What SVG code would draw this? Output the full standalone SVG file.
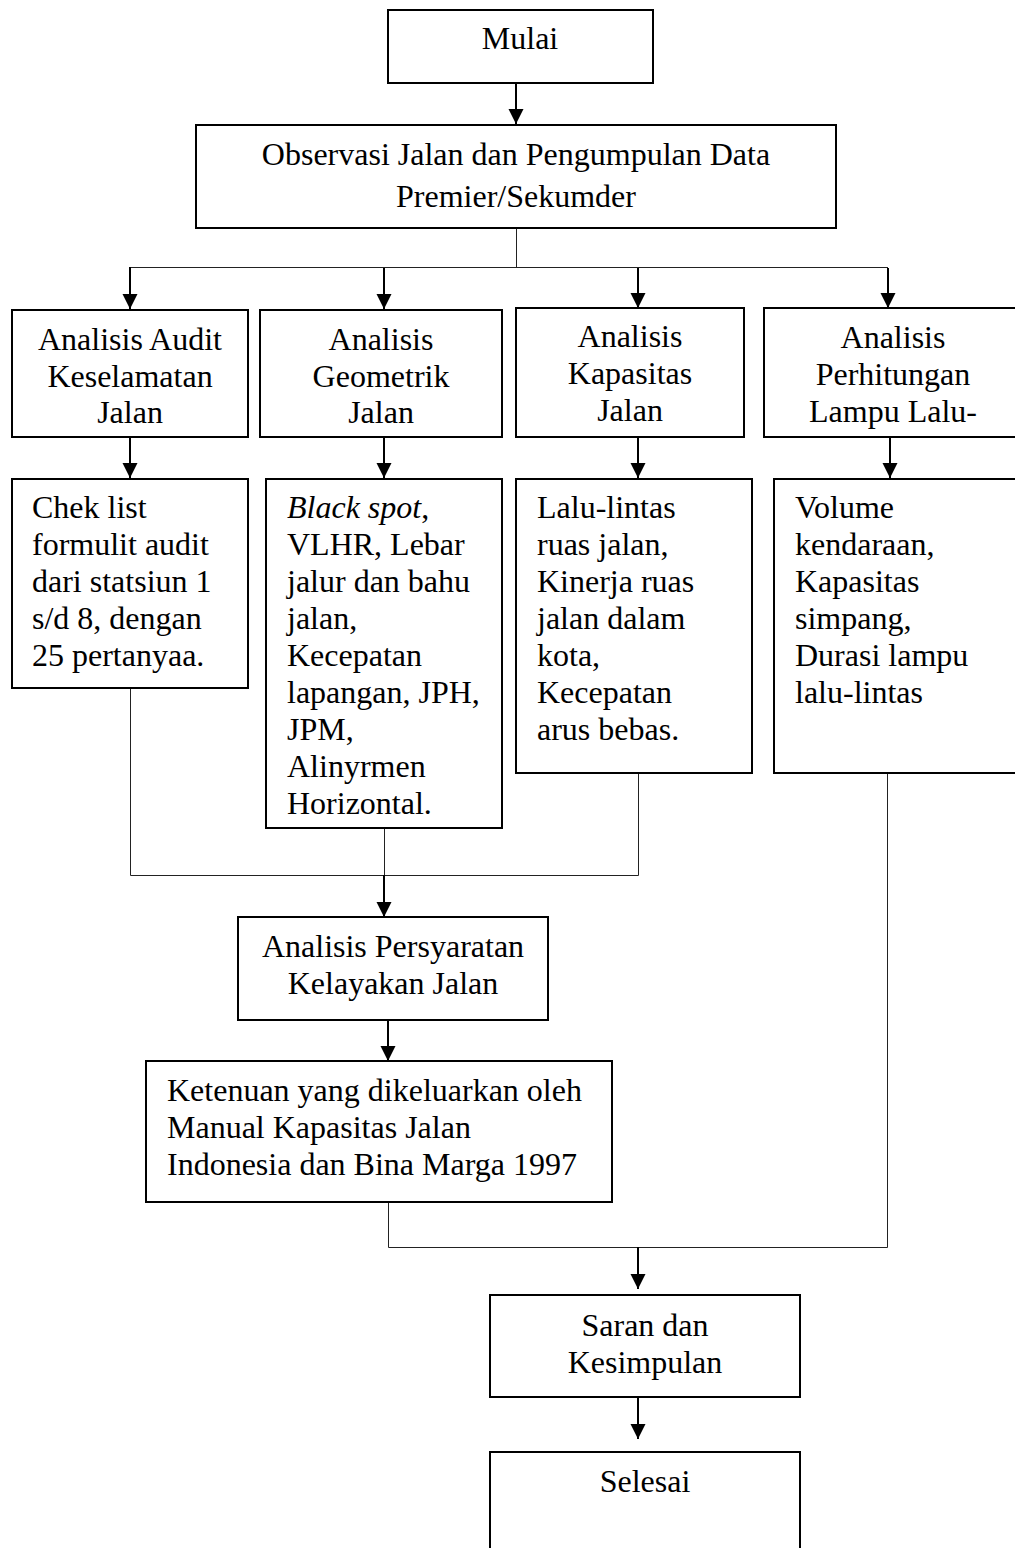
<svg xmlns="http://www.w3.org/2000/svg" width="1015" height="1548" viewBox="0 0 1015 1548">
<style>
.box{fill:#fff;stroke:#000;stroke-width:2}
.t{font-family:"Liberation Serif","Times New Roman",serif;font-size:32px;fill:#000}
.c{text-anchor:middle}
.ln{fill:none;stroke:#222;stroke-width:1}
.arr{fill:none;stroke:#000;stroke-width:2;marker-end:url(#ah)}
</style>
<defs>
<marker id="ah" markerUnits="userSpaceOnUse" markerWidth="16" markerHeight="16" refX="15" refY="7.5" orient="auto">
<path d="M0,0 L15,7.5 L0,15 Z" fill="#000"/>
</marker>
</defs>
<rect width="1015" height="1548" fill="#fff"/>
<g id="connectors">
<path class="ln" d="M516.5,228 V267.5 M130,267.5 H888"/>
<path class="ln" d="M130.5,688 V875.5 H638.5 V773 M384.5,828 V875"/>
<path class="ln" d="M388.5,1202 V1247.5 H887.5 V773"/>
<path class="arr" d="M516,83 V124"/>
<path class="arr" d="M130,267 V309"/>
<path class="arr" d="M384,268 V309"/>
<path class="arr" d="M638,268 V308"/>
<path class="arr" d="M888,268 V308"/>
<path class="arr" d="M130,437 V478"/>
<path class="arr" d="M384,437 V478"/>
<path class="arr" d="M638,437 V478"/>
<path class="arr" d="M890,437 V478"/>
<path class="arr" d="M384,875 V917"/>
<path class="arr" d="M388,1020 V1061"/>
<path class="arr" d="M638,1247 V1289"/>
<path class="arr" d="M638,1397 V1439"/>
</g>
<g id="mulai">
<rect class="box" x="388" y="10" width="265" height="73"/>
<text class="t c" x="520" y="49">Mulai</text>
</g>
<g id="observasi">
<rect class="box" x="196" y="125" width="640" height="103"/>
<text class="t c" x="516" y="165">Observasi Jalan dan Pengumpulan Data</text>
<text class="t c" x="516" y="207">Premier/Sekumder</text>
</g>
<g id="audit">
<rect class="box" x="12" y="310" width="236" height="127"/>
<text class="t c" x="130" y="350">Analisis Audit</text>
<text class="t c" x="130" y="387">Keselamatan</text>
<text class="t c" x="130" y="423">Jalan</text>
</g>
<g id="geometrik">
<rect class="box" x="260" y="310" width="242" height="127"/>
<text class="t c" x="381" y="350">Analisis</text>
<text class="t c" x="381" y="387">Geometrik</text>
<text class="t c" x="381" y="423">Jalan</text>
</g>
<g id="kapasitas">
<rect class="box" x="516" y="308" width="228" height="129"/>
<text class="t c" x="630" y="347">Analisis</text>
<text class="t c" x="630" y="384">Kapasitas</text>
<text class="t c" x="630" y="421">Jalan</text>
</g>
<g id="lampu">
<rect class="box" x="764" y="308" width="270" height="129"/>
<text class="t c" x="893" y="348">Analisis</text>
<text class="t c" x="893" y="385">Perhitungan</text>
<text class="t c" x="893" y="422">Lampu Lalu-</text>
</g>
<g id="checklist">
<rect class="box" x="12" y="479" width="236" height="209"/>
<text class="t" x="32" y="518">Chek list</text>
<text class="t" x="32" y="555">formulit audit</text>
<text class="t" x="32" y="592">dari statsiun 1</text>
<text class="t" x="32" y="629">s/d 8, dengan</text>
<text class="t" x="32" y="666">25 pertanyaa.</text>
</g>
<g id="blackspot">
<rect class="box" x="266" y="479" width="236" height="349"/>
<text class="t" x="287" y="518"><tspan font-style="italic">Black spot</tspan>,</text>
<text class="t" x="287" y="555">VLHR, Lebar</text>
<text class="t" x="287" y="592">jalur dan bahu</text>
<text class="t" x="287" y="629">jalan,</text>
<text class="t" x="287" y="666">Kecepatan</text>
<text class="t" x="287" y="703">lapangan, JPH,</text>
<text class="t" x="287" y="740">JPM,</text>
<text class="t" x="287" y="777">Alinyrmen</text>
<text class="t" x="287" y="814">Horizontal.</text>
</g>
<g id="lalulintas">
<rect class="box" x="516" y="479" width="236" height="294"/>
<text class="t" x="537" y="518">Lalu-lintas</text>
<text class="t" x="537" y="555">ruas jalan,</text>
<text class="t" x="537" y="592">Kinerja ruas</text>
<text class="t" x="537" y="629">jalan dalam</text>
<text class="t" x="537" y="666">kota,</text>
<text class="t" x="537" y="703">Kecepatan</text>
<text class="t" x="537" y="740">arus bebas.</text>
</g>
<g id="volume">
<rect class="box" x="774" y="479" width="260" height="294"/>
<text class="t" x="795" y="518">Volume</text>
<text class="t" x="795" y="555">kendaraan,</text>
<text class="t" x="795" y="592">Kapasitas</text>
<text class="t" x="795" y="629">simpang,</text>
<text class="t" x="795" y="666">Durasi lampu</text>
<text class="t" x="795" y="703">lalu-lintas</text>
</g>
<g id="persyaratan">
<rect class="box" x="238" y="917" width="310" height="103"/>
<text class="t c" x="393" y="957">Analisis Persyaratan</text>
<text class="t c" x="393" y="994">Kelayakan Jalan</text>
</g>
<g id="ketenuan">
<rect class="box" x="146" y="1061" width="466" height="141"/>
<text class="t" x="167" y="1101">Ketenuan yang dikeluarkan oleh</text>
<text class="t" x="167" y="1138">Manual Kapasitas Jalan</text>
<text class="t" x="167" y="1175">Indonesia dan Bina Marga 1997</text>
</g>
<g id="saran">
<rect class="box" x="490" y="1295" width="310" height="102"/>
<text class="t c" x="645" y="1336">Saran dan</text>
<text class="t c" x="645" y="1373">Kesimpulan</text>
</g>
<g id="selesai">
<rect class="box" x="490" y="1452" width="310" height="120"/>
<text class="t c" x="645" y="1492">Selesai</text>
</g>
</svg>
